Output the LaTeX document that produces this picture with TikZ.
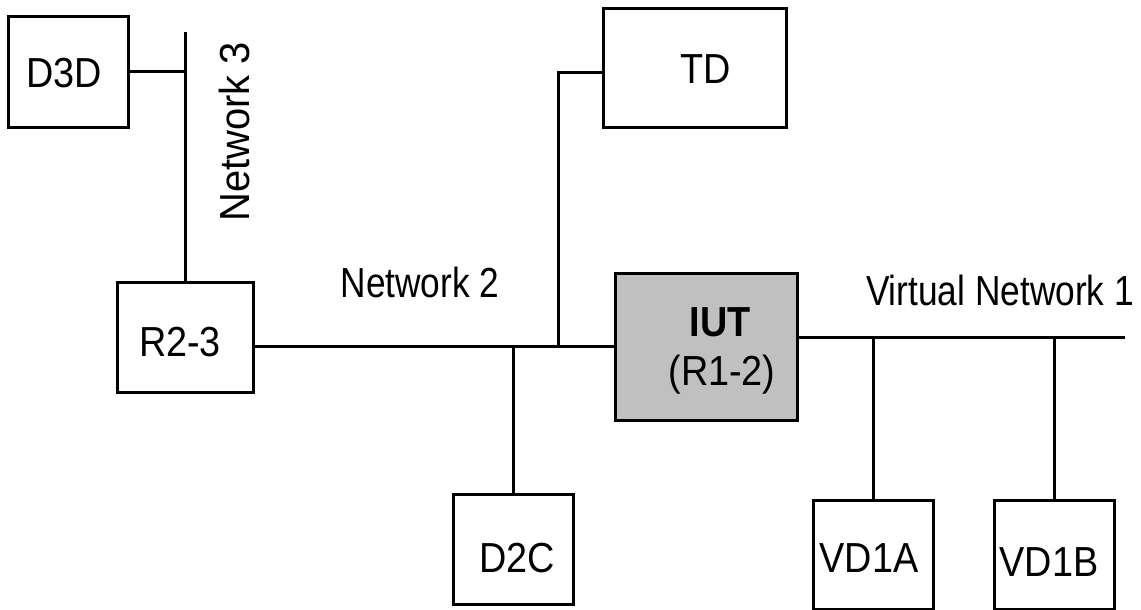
\documentclass[tikz,border=0pt]{standalone}
\usepackage{fontspec}
\setmainfont{Liberation Sans}[FakeStretch=0.9]
\newfontfamily\narrowfont{Liberation Sans}[FakeStretch=0.84]
\newfontfamily\widefont{Liberation Sans}[FakeStretch=0.95]
\definecolor{iutgray}{HTML}{C0C0C0}
\begin{document}
\begin{tikzpicture}[x=1pt,y=-1pt,
  box/.style={draw,line width=3pt,rectangle,inner sep=0pt,fill=white},
  lbl/.style={inner sep=0pt,font=\fontsize{42}{48}\selectfont},
  net/.style={line width=3pt}]
\useasboundingbox (0,0) rectangle (1141,610);
% boxes
\node[box,minimum width=120pt,minimum height=110pt] (D3D) at (68,72) {};
\node[box,minimum width=136pt,minimum height=110pt] (R23) at (185,337) {};
\node[box,minimum width=183pt,minimum height=118pt] (TD) at (694.5,68) {};
\node[box,fill=iutgray,minimum width=182pt,minimum height=147pt] (IUT) at (706,346.5) {};
\node[box,minimum width=120pt,minimum height=110pt] (D2C) at (513,549) {};
\node[box,minimum width=120pt,minimum height=109pt] (VD1A) at (873,554.5) {};
\node[box,minimum width=120pt,minimum height=109pt] (VD1B) at (1054,554.5) {};
% texts
\node[lbl] (tD3D) at (64,73) {D3D};
\node[lbl] (tR23) at (180,342) {R2-3};
\node[lbl] (tTD) at (706,69) {TD};
\node[lbl,font=\fontsize{42}{48}\selectfont\bfseries] (tIUT) at (720,322) {IUT};
\node[lbl] (tR12) at (722,375) {(R1-2)};
\node[lbl] (tD2C) at (517,558) {D2C};
\node[lbl] (tVD1A) at (869,558) {VD1A};
\node[lbl] (tVD1B) at (1049,562) {VD1B};
\node[lbl,font=\fontsize{42}{48}\widefont,rotate=90] (tN3) at (234,132) {Network 3};
\node[lbl,font=\fontsize{42}{48}\narrowfont] (tN2) at (420,282) {Network 2};
\node[lbl,font=\fontsize{42}{48}\narrowfont] (tVN1) at (1000,290) {Virtual Network 1};
% coordinates
\coordinate (n3top) at (185,32);
\coordinate (n3d3d) at (185,72);
\coordinate (n2l) at (253,346);
\coordinate (n2r) at (615,346);
\coordinate (tdbend) at (558,73);
\coordinate (tdj) at (558,346);
\coordinate (d2cj) at (513,346);
\coordinate (vn1l) at (797,337);
\coordinate (vn1r) at (1125,337);
\coordinate (vaj) at (873,337);
\coordinate (vbj) at (1054,337);
% connectors
\draw[net] (n3top) -- (R23.north);
\draw[net] (D3D.east |- n3d3d) -- (n3d3d);
\draw[net] (n2l) -- (n2r);
\draw[net] (TD.west |- tdbend) -- (tdbend) -- (tdj);
\draw[net] (d2cj) -- (D2C.north);
\draw[net] (vn1l) -- (vn1r);
\draw[net] (vaj) -- (VD1A.north);
\draw[net] (vbj) -- (VD1B.north);
\end{tikzpicture}
\end{document}
